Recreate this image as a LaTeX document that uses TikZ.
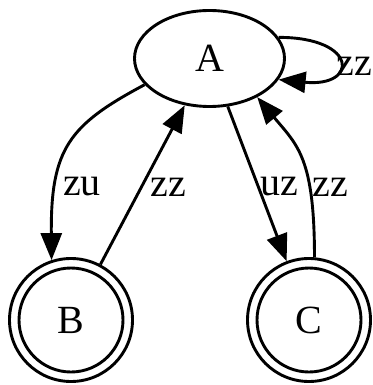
\documentclass[tikz,border=0pt]{standalone}
\usepackage{fontspec}
\setmainfont{Liberation Serif}
\usetikzlibrary{arrows.meta,shapes.geometric}
\begin{document}
\begin{tikzpicture}[x=1pt,y=1pt, line width=2.9pt,
  >={Triangle[length=27pt,width=21pt]},
  font=\fontsize{40}{44}\selectfont,
  state/.style={ellipse,draw,minimum width=150pt,minimum height=96pt,inner sep=0pt},
  accept/.style={circle,draw,minimum size=123pt,inner sep=0pt},
  lbl/.style={inner sep=0pt}]
\useasboundingbox (0,0) rectangle (372,-385);
\node[state] (A) at (209.5,-58.5) {A};
\node[accept] (B) at (71,-320) {B};
\node[accept] (C) at (309,-320) {C};
\draw (B.center) circle[radius=52pt];
\draw (C.center) circle[radius=52pt];
% edges
\draw[->] (A.202) .. controls +(-75,-40) and +(-1,112) .. (B.108);
\draw[->] (B) -- (A);
\draw[->] (A) -- (C);
\draw[->] (C.85) .. controls +(0,100) and +(40,-48) .. (A.321);
\draw[->] (A.17) .. controls +(80,0) and +(80,-8) .. (A.343);
% labels
\node[lbl] (lzu) at (82,-187) {zu};
\node[lbl] (lzzB) at (168,-187) {zz};
\node[lbl] (luz) at (279,-187) {uz};
\node[lbl] (lzzC) at (330,-187) {zz};
\node[lbl] (lzzA) at (354,-66) {zz};
\end{tikzpicture}
\end{document}
